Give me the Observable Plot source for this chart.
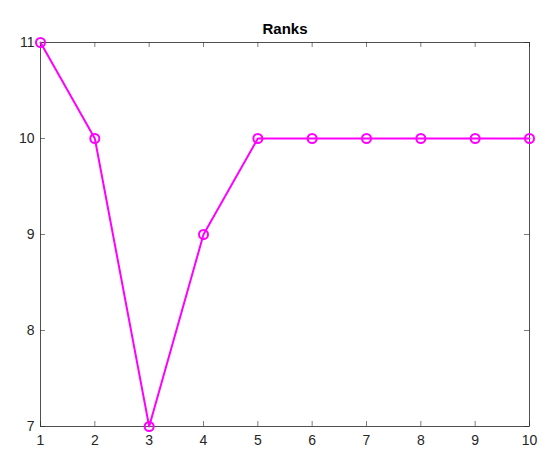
<!DOCTYPE html>
<html><head><meta charset="utf-8">
<script src="https://cdn.jsdelivr.net/npm/d3@7"></script>
<script src="https://cdn.jsdelivr.net/npm/@observablehq/plot@0.6"></script>
<style>body{margin:0;background:#fff;} svg{display:block;}</style>
</head><body><div id="chart"></div>
<script>
const xs = [1,2,3,4,5,6,7,8,9,10];
const ranks = [11,10,7,9,10,10,10,10,10,10];
const xTicks = [1,2,3,4,5,6,7,8,9,10];
const yTicks = [7,8,9,10,11];
const title = "Ranks";

const data = xs.map((x,i)=>({x, y: ranks[i]}));
const W = 547, H = 464, mt = 42, mb = 38, ml = 40, mr = 18;
const fh = H - mt - mb, fw = W - ml - mr;
const axisColor = "#262626";
const tickLen = 5;

const chart = Plot.plot({
  width: W, height: H,
  marginTop: mt, marginBottom: mb, marginLeft: ml, marginRight: mr,
  style: {fontFamily: "'Liberation Sans', Arial, sans-serif", fontSize: "14px", color: axisColor, background: "#fff"},
  x: {domain: [1,10]},
  y: {domain: [7,11]},
  marks: [
    Plot.axisX(xTicks, {tickSize: 0, tickPadding: 9, fontSize: 14, fill: axisColor, label: null, tickFormat: "d"}),
    Plot.axisY(yTicks, {tickSize: 0, tickPadding: 6, fontSize: 14, fill: axisColor, label: null, tickFormat: "d"}),
    Plot.tickX(xTicks, {x: d=>d, insetTop: fh - tickLen, stroke: axisColor, strokeWidth: 0.6}),
    Plot.tickX(xTicks, {x: d=>d, insetBottom: fh - tickLen, stroke: axisColor, strokeWidth: 0.6}),
    Plot.tickY(yTicks, {y: d=>d, insetRight: fw - tickLen, stroke: axisColor, strokeWidth: 0.6}),
    Plot.tickY(yTicks, {y: d=>d, insetLeft: fw - tickLen, stroke: axisColor, strokeWidth: 0.6}),
    Plot.frame({stroke: axisColor, strokeWidth: 0.8}),
    Plot.line(data, {x: "x", y: "y", stroke: "#ff00ff", strokeWidth: 2}),
    Plot.dot(data, {x: "x", y: "y", r: 4.5, stroke: "#ff00ff", strokeWidth: 2, fill: "none"}),
    Plot.text([title], {text: d=>d, frameAnchor: "top", dy: -19, fontWeight: "bold", fontSize: 15, fill: "#000"})
  ]
});
document.getElementById("chart").appendChild(chart);
</script></body></html>
